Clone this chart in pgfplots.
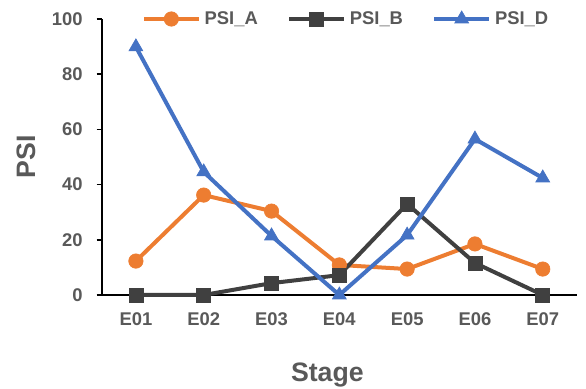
\documentclass[border=0pt]{standalone}
\usepackage{pgfplots}
\pgfplotsset{compat=1.18}
\usepackage{fontspec}
\setmainfont{Liberation Sans}
\definecolor{cA}{HTML}{ED7D31}
\definecolor{cB}{HTML}{404040}
\definecolor{cD}{HTML}{4472C4}
\definecolor{txt}{HTML}{595959}
\begin{document}
\begin{tikzpicture}
\useasboundingbox (-76.5pt,-70.5pt) rectangle (363pt,221.25pt);
\begin{axis}[
  at={(0,0)}, anchor=south west,
  scale only axis, width=356pt, height=207pt,
  xmin=-0.5, xmax=6.5, ymin=0, ymax=100,
  axis x line=bottom, axis y line=left,
  axis line style={black, line width=1.5pt, -},
  xtick={0,...,6},
  xticklabels={E01,E02,E03,E04,E05,E06,E07},
  ytick={0,20,...,100},
  x tick style={draw=none},
  y tick style={black, line width=1.2pt},
  major tick length=4pt,
  tick align=outside,
  /pgf/number format/assume math mode=true,
  ticklabel style={font=\fontsize{13.8}{15}\selectfont\bfseries, text=txt},
  xticklabel style={yshift=-6pt},
  yticklabel style={xshift=-7pt},
  xlabel={Stage}, ylabel={PSI},
  label style={font=\fontsize{20}{22}\selectfont\bfseries, text=txt},
  xlabel style={at={(axis description cs:0.5,0)}, anchor=center, yshift=-60pt, xshift=-9pt},
  ylabel style={at={(axis description cs:0,0.5)}, anchor=center, rotate=0, yshift=57pt},
  legend columns=3,
  legend style={at={(axis description cs:0.515,1)}, anchor=center, draw=none, fill=white,
    font=\fontsize{13.8}{15}\selectfont\bfseries, text=txt, inner sep=1pt,
    /tikz/every even column/.append style={column sep=20pt},
    /tikz/every odd column/.append style={column sep=1pt}},
  legend image code/.code={\draw[mark repeat=2,mark phase=2] plot coordinates {(0pt,0pt) (20.5pt,0pt) (41pt,0pt)};},
  every axis plot/.append style={line width=3pt},
  clip=false,
]
\addplot[color=cA, mark=*, mark size=5.4pt, mark options={solid, line width=0.5pt}] coordinates {
(0,12.3) (1,36.2) (2,30.4) (3,10.9) (4,9.4) (5,18.5) (6,9.4)};
\addlegendentry{PSI\_A}
\addplot[color=cB, mark=square*, mark size=5.3pt, mark options={solid, line width=0.5pt}] coordinates {
(0,0) (1,0) (2,4.3) (3,7.2) (4,33) (5,11.6) (6,0)};
\addlegendentry{PSI\_B}
\addplot[color=cD, mark=triangle*, mark size=6pt, mark options={solid, line width=0.5pt}] coordinates {
(0,89.9) (1,44.6) (2,21.4) (3,0) (4,21.7) (5,56.5) (6,42.4)};
\addlegendentry{PSI\_D}
\end{axis}
\end{tikzpicture}
\end{document}
